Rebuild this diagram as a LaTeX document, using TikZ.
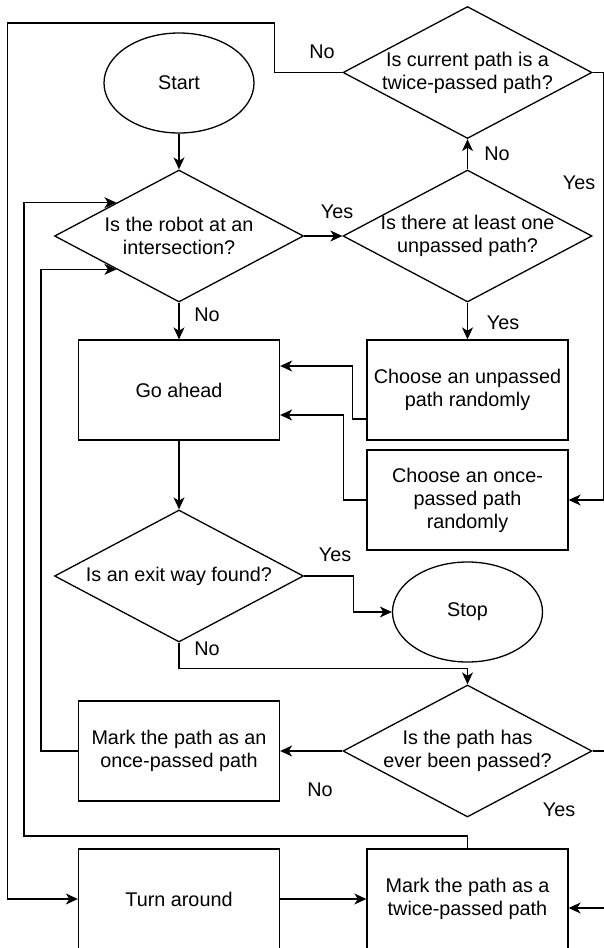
\documentclass[tikz,border=0pt]{standalone}
\usepackage{fontspec}
\setmainfont{Liberation Sans}
\usetikzlibrary{positioning,shapes.geometric,arrows.meta}
\tikzset{>=Stealth}
\tikzstyle{mynode}=[align=center, inner sep=0pt, line width=1.3pt]
\tikzstyle{process}=[mynode, rectangle, draw, minimum width=201pt, minimum height=100pt]
\tikzstyle{decision}=[mynode, diamond, draw, minimum width=249pt, minimum height=132pt]
\tikzstyle{terminal}=[mynode, ellipse, draw, minimum width=150pt, minimum height=100pt]
\tikzstyle{answer}=[inner sep=1pt]
\tikzstyle{connect arrow}=[-{Stealth[length=12pt,width=11pt,inset=3.5pt]}, line width=1.3pt]

\begin{document}
\begin{tikzpicture}[
    x=1pt, y=-1pt,
    node distance=288.5pt,
    on grid,
    font=\fontsize{19.8}{23}\selectfont]

\useasboundingbox (0,0) rectangle (604,948);
\clip (0,0) rectangle (604,948);

\node[terminal] (start) at (179,83) {Start};
\node[decision, label={[align=center]center:Is the robot at an\\intersection?}] (robot) at (179,236) {};
\node[decision, label={[align=center]center:Is there at least one\\unpassed path?}] (unpassed) [right=of robot] {};
\node[decision, label={[align=center]center:Is current path is a\\twice-passed path?}] (twice) [above=163.5pt of unpassed] {};

\node[process] (ahead) at (179,390) {Go ahead};
\node[process] (choose_unp) [right=of ahead] {Choose an unpassed\\path randomly};
\node[process] (choose_once) [below=110pt of choose_unp] {Choose an once-\\passed path\\randomly};

\node[decision, label={[align=center]center:Is an exit way found?}] (exit) at (179,576) {};
\node[terminal] (stop) at (467.5,612) {Stop};

\node[decision, label={[align=center]center:Is the path has\\ever been passed?}] (ever) at (467.5,751) {};
\node[process] (mark_once) [left=of ever] {Mark the path as an\\once-passed path};

\node[process] (turn) at (179,899) {Turn around};
\node[process] (mark_twice) [right=of turn] {Mark the path as a\\twice-passed path};

% answers
\node[answer] (no_twice) at (322,52) {No};
\node[answer] (no_unp) at (497,154) {No};
\node[answer] (yes_twice) at (579,183) {Yes};
\node[answer] (yes_robot) at (337,212) {Yes};
\node[answer] (no_robot) at (207,315) {No};
\node[answer] (yes_unp) at (503,323) {Yes};
\node[answer] (yes_exit) at (335,555) {Yes};
\node[answer] (no_exit) at (207,649) {No};
\node[answer] (no_ever) at (320,790) {No};
\node[answer] (yes_ever) at (559,810) {Yes};

\coordinate (lane_out) at (7.5,23);
\coordinate (lane_twice) at (24,836);

\begin{scope}[connect arrow]
    \draw (start) -- (robot);
    \draw (robot.east) -- (unpassed.west);
    \draw (robot) -- (ahead);
    \draw (unpassed.north) -- (twice.south);
    \draw (unpassed.south) -- (choose_unp.north);
    \draw ([yshift=-29pt]choose_unp.west) -- ++(-14,0) |- ([yshift=24pt]ahead.east);
    \draw (choose_once.west) -- ++(-23,0) |- ([yshift=-25pt]ahead.east);
    \draw (twice.east) -- ++(11,0) |- (choose_once.east);
    \draw (twice.west) -- ++(-68,0) |- (lane_out) |- (turn.west);
    \draw (ahead) -- (exit);
    \draw (exit.east) -- ++(49,0) |- (stop.west);
    \draw (exit.south) -- ++(0,26) -| (ever.north);
    \draw (ever.west) -- (mark_once.east);
    \draw (mark_once.west) -- ++(-37,0) |- (robot.south west);
    \draw (mark_twice.north) |- (lane_twice) |- (robot.north west);
    \draw (turn) -- (mark_twice);
    \draw (ever.east) -- ++(30,0) |- ([yshift=-9pt]mark_twice.east);
\end{scope}

\end{tikzpicture}
\end{document}
